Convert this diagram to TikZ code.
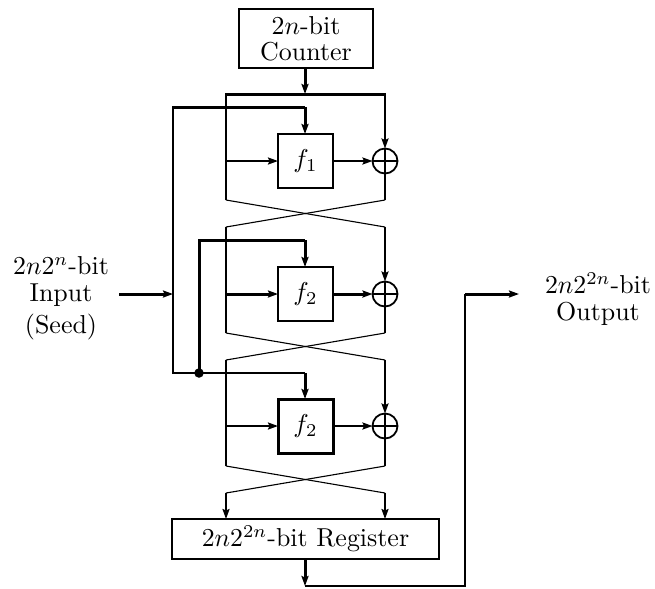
\documentclass[tikz,border=0pt]{standalone}
\usetikzlibrary{arrows.meta,calc}
\newcommand{\pxu}{0.3875pt}
\tikzset{
  x=0.3875pt,y=-0.3875pt,
  every node/.style={inner sep=0pt,outer sep=0pt,align=center},
  lbl/.style={font=\fontsize{10.05}{10.4}\selectfont},
  tip/.style={-{Stealth[length=10*\pxu,width=7*\pxu,inset=1.5*\pxu]}},
  thinw/.style={line width=1.9*\pxu},
  bus/.style={line width=3*\pxu},
  crossw/.style={line width=1.1*\pxu},
  boxa/.style={draw,line width=2.6*\pxu,lbl},
  fbox/.style={boxa,minimum width=55*\pxu,minimum height=54*\pxu},
  xorn/.style={draw,circle,line width=1.8*\pxu,minimum size=25*\pxu},
  dotn/.style={fill,circle,minimum size=9.5*\pxu},
}
\begin{document}
\begin{tikzpicture}
\useasboundingbox (0,0) rectangle (655,588);
% boxes
\node[boxa,minimum width=134*\pxu,minimum height=59*\pxu] (ctr) at (306,38.5) {$2n$-bit\\[-0.3pt]Counter};
\node[fbox,line width=2.3*\pxu] (f1) at (305.5,161) {$f_1$};
\node[fbox,line width=2.6*\pxu] (f2) at (305.5,294) {$f_2$};
\node[fbox,line width=3*\pxu] (f3) at (305.5,426) {$f_2$};
\node[boxa,line width=2.3*\pxu,minimum width=267*\pxu,minimum height=40*\pxu] (reg) at (305.5,539) {$2n2^{2n}$-bit Register};
\node[xorn] (x1) at (385,161) {};
\node[xorn] (x2) at (385,294) {};
\node[xorn] (x3) at (385,426) {};
\foreach \n in {x1,x2,x3}{
  \draw[line width=1.1*\pxu] (\n.north)--(\n.south) (\n.west)--(\n.east);
}
% labels
\node[lbl] (inp) at (61,298.5) {$2n2^{n}$-bit\\Input\\[2pt](Seed)};
\node[lbl] (out) at (598,299) {$2n2^{2n}$-bit\\Output};
% coordinates
\coordinate (tl) at (225,94); \coordinate (tr) at (386,94); \coordinate (tm) at (305,94);
\coordinate (inA) at (119,294); \coordinate (inB) at (173,294);
\coordinate (b1a) at (172,107); \coordinate (b1b) at (305,107);
\coordinate (b3a) at (173,373); \coordinate (b3b) at (305,373);
\node[dotn] (dot) at (199,373) {};
\coordinate (b2a) at (199,240); \coordinate (b2b) at (305,240);
\coordinate (o1) at (305,586); \coordinate (o2) at (465,586); \coordinate (o3) at (465,294); \coordinate (o4) at (519,294);
% left column and right column
\foreach \ya/\yb/\f/\x/\wt [count=\i] in {94/200/f1/x1/thinw,227/333/f2/x2/bus,360/466/f3/x3/thinw}{
  \coordinate (L\i) at (226,\ya); \coordinate (Lb\i) at (226,\yb);
  \coordinate (R\i) at (385,\ya); \coordinate (Rb\i) at (385,\yb);
  \draw[thinw] (L\i)--(Lb\i);
  \draw[thinw,tip] (R\i)--(\x.north);
  \draw[thinw] (\x.south)--(Rb\i);
  \draw[\wt,tip] (L\i|-\f.west) -- (\f.west);
  \draw[\wt,tip] (\f.east)--(\x.west);
}
% crossings
\foreach \i/\yb in {1/227,2/360,3/493}{
  \coordinate (Ln\i) at (226,\yb); \coordinate (Rn\i) at (385,\yb);
  \draw[crossw] (Lb\i)--(Rn\i);
  \draw[crossw] (Rb\i)--(Ln\i);
}
% buses
\draw[bus] (tl)--(tr);
\draw[bus,tip] (ctr.south-|tm)--(tm);
\draw[bus] (b1a)--(b1b);
\draw[bus,tip] (b1b)--(f1.north-|b1b);
\draw[bus,tip] (inA)--(inB);
\draw[thinw,line join=miter] (b1a-|b3a)--(b3a)--(b3b);
\draw[bus,tip] (b3b)--(f3.north-|b3b);
\draw[bus,line join=miter] (dot.center)--(b2a)--(b2b);
\draw[bus,tip] (b2b)--(f2.north-|b2b);
\draw[thinw,tip] (Ln3)--(reg.north-|Ln3);
\draw[thinw,tip] (Rn3)--(reg.north-|Rn3);
\draw[bus,tip] (reg.south-|o1)--(o1);
\draw[thinw] (o1)--(o2)--(o3);
\draw[bus,tip] (o3)--(o4);
\end{tikzpicture}
\end{document}
